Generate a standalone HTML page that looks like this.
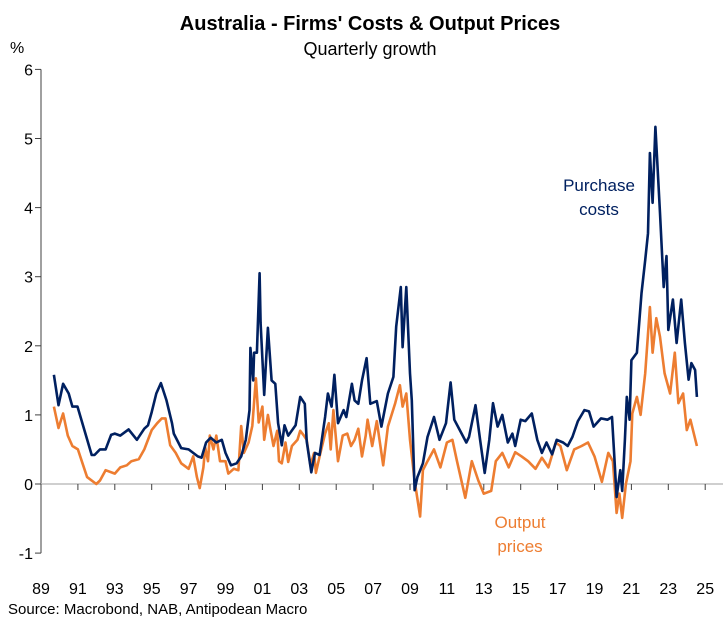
<!DOCTYPE html>
<html><head><meta charset="utf-8"><style>
body{margin:0;background:#fff;font-family:"Liberation Sans",Arial,sans-serif}
</style></head><body>
<svg id="chart" width="728" height="630" xmlns="http://www.w3.org/2000/svg" font-family="Liberation Sans, Arial, sans-serif">
<text x="370" y="30" text-anchor="middle" font-size="20" font-weight="bold">Australia - Firms' Costs &amp; Output Prices</text>
<text x="370" y="55" text-anchor="middle" font-size="18">Quarterly growth</text>
<text x="10" y="53" font-size="16">%</text>
<text x="599" y="191" text-anchor="middle" font-size="17" fill="#002060">Purchase</text>
<text x="599" y="215" text-anchor="middle" font-size="17" fill="#002060">costs</text>
<text x="520" y="528" text-anchor="middle" font-size="17" fill="#ED7D31">Output</text>
<text x="520" y="552" text-anchor="middle" font-size="17" fill="#ED7D31">prices</text>
<text x="8" y="614" font-size="15">Source: Macrobond, NAB, Antipodean Macro</text>
<g id="axes"></g><g id="series"></g>
</svg>
<script>
const yTicks=[6,5,4,3,2,1,0,-1];
const xTickYears=[1989,1991,1993,1995,1997,1999,2001,2003,2005,2007,2009,2011,2013,2015,2017,2019,2021,2023,2025];
const xTickLabels=["89","91","93","95","97","99","01","03","05","07","09","11","13","15","17","19","21","23","25"];
const purchaseDates=[1989.7,1989.95,1990.2,1990.5,1990.7,1990.98,1991.75,1991.9,1992.2,1992.5,1992.8,1993.0,1993.3,1993.75,1994.2,1994.6,1994.8,1995.0,1995.25,1995.5,1995.8,1996.1,1996.2,1996.6,1997.0,1997.25,1997.5,1997.7,1997.95,1998.2,1998.5,1998.8,1999.0,1999.3,1999.6,1999.85,2000.1,2000.3,2000.35,2000.5,2000.55,2000.7,2000.85,2000.9,2001.1,2001.3,2001.5,2001.7,2001.85,2002.05,2002.2,2002.4,2002.8,2003.05,2003.3,2003.4,2003.65,2003.85,2004.1,2004.4,2004.55,2004.75,2004.9,2005.1,2005.4,2005.55,2005.85,2006.0,2006.2,2006.4,2006.65,2006.85,2007.2,2007.45,2007.8,2008.1,2008.25,2008.5,2008.6,2008.8,2009.0,2009.1,2009.25,2009.4,2009.7,2009.95,2010.3,2010.6,2010.95,2011.2,2011.4,2011.7,2012.05,2012.2,2012.55,2012.8,2013.05,2013.3,2013.5,2013.75,2014.0,2014.3,2014.55,2014.7,2015.0,2015.25,2015.6,2015.9,2016.15,2016.4,2016.7,2016.95,2017.3,2017.55,2017.8,2018.1,2018.45,2018.7,2018.95,2019.35,2019.7,2019.95,2020.05,2020.2,2020.4,2020.5,2020.65,2020.75,2020.9,2021.0,2021.3,2021.55,2021.75,2021.9,2022.0,2022.15,2022.3,2022.55,2022.75,2022.9,2023.0,2023.25,2023.45,2023.7,2023.9,2024.1,2024.25,2024.45,2024.55];
const purchaseVals=[1.58,1.14,1.45,1.31,1.12,1.12,0.42,0.42,0.5,0.5,0.71,0.73,0.7,0.79,0.64,0.8,0.85,1.04,1.31,1.46,1.21,0.88,0.73,0.52,0.5,0.45,0.4,0.38,0.6,0.67,0.6,0.64,0.45,0.27,0.3,0.4,0.64,1.07,1.97,1.5,1.9,1.9,3.05,2.33,1.29,2.26,1.5,1.45,0.88,0.56,0.85,0.7,0.85,1.26,1.16,0.62,0.17,0.45,0.42,0.97,1.31,1.12,1.58,0.88,1.07,0.97,1.45,1.21,1.16,1.5,1.82,1.16,1.2,0.83,1.31,1.55,2.28,2.85,1.98,2.85,1.6,1.21,-0.09,0.1,0.3,0.68,0.97,0.64,0.88,1.47,0.93,0.78,0.6,0.68,1.14,0.64,0.16,0.64,1.17,0.83,1.0,0.6,0.73,0.55,0.93,0.91,1.02,0.64,0.45,0.6,0.43,0.64,0.6,0.55,0.68,0.91,1.07,1.05,0.83,0.95,0.93,0.97,0.5,-0.19,0.2,-0.1,0.64,1.26,0.93,1.79,1.9,2.76,3.24,3.63,4.79,4.07,5.17,3.92,2.85,3.3,2.23,2.67,2.04,2.67,2.04,1.51,1.75,1.65,1.26];
const outputDates=[1989.7,1989.95,1990.2,1990.45,1990.7,1991.0,1991.25,1991.5,1992.0,1992.2,1992.5,1993.0,1993.3,1993.65,1993.9,1994.3,1994.6,1995.0,1995.3,1995.55,1995.75,1996.0,1996.3,1996.6,1997.0,1997.25,1997.45,1997.6,1997.8,1997.9,1998.05,1998.15,1998.35,1998.5,1998.7,1999.0,1999.15,1999.45,1999.7,1999.85,2000.0,2000.25,2000.45,2000.65,2000.8,2001.0,2001.1,2001.3,2001.4,2001.6,2001.8,2001.9,2002.05,2002.25,2002.4,2002.6,2002.9,2003.05,2003.25,2003.4,2003.6,2003.8,2003.9,2004.1,2004.4,2004.6,2004.7,2004.85,2005.1,2005.35,2005.6,2005.8,2006.0,2006.2,2006.4,2006.6,2006.7,2006.95,2007.2,2007.55,2007.8,2008.2,2008.45,2008.6,2008.8,2009.0,2009.25,2009.55,2009.7,2009.95,2010.3,2010.65,2011.0,2011.3,2011.55,2012.0,2012.35,2012.7,2013.0,2013.4,2013.65,2014.0,2014.35,2014.7,2015.05,2015.4,2015.8,2016.15,2016.5,2016.9,2017.15,2017.5,2017.9,2018.3,2018.65,2019.0,2019.4,2019.75,2020.0,2020.2,2020.35,2020.5,2020.7,2020.95,2021.05,2021.3,2021.5,2021.75,2022.0,2022.15,2022.35,2022.55,2022.8,2023.1,2023.35,2023.55,2023.8,2024.0,2024.2,2024.55];
const outputVals=[1.12,0.81,1.02,0.7,0.55,0.5,0.3,0.1,0.0,0.05,0.2,0.15,0.24,0.27,0.33,0.36,0.5,0.78,0.88,0.95,0.95,0.56,0.45,0.3,0.22,0.4,0.1,-0.06,0.24,0.53,0.33,0.7,0.5,0.7,0.33,0.33,0.15,0.22,0.2,0.84,0.45,0.6,0.84,1.53,0.89,1.12,0.64,1.0,0.84,0.55,0.77,0.33,0.3,0.6,0.32,0.55,0.64,0.77,0.7,0.64,0.27,0.45,0.16,0.4,0.73,0.88,0.5,1.07,0.33,0.7,0.73,0.55,0.64,0.8,0.4,0.7,0.93,0.55,0.91,0.27,0.83,1.17,1.43,1.12,1.31,0.64,0.05,-0.47,0.2,0.33,0.5,0.24,0.6,0.64,0.33,-0.2,0.33,0.05,-0.14,-0.1,0.33,0.45,0.24,0.46,0.4,0.33,0.22,0.38,0.24,0.6,0.55,0.2,0.5,0.55,0.6,0.4,0.03,0.45,0.33,-0.42,-0.14,-0.49,0.0,0.33,1.02,1.26,1.0,1.6,2.56,1.9,2.4,2.13,1.6,1.31,1.9,1.17,1.31,0.78,0.93,0.55];

const NS="http://www.w3.org/2000/svg";
const X0=41, XPY=18.45, Y0=484, YPU=69.1;
function xs(yr){return X0+(yr-1989)*XPY;}
function ys(v){return Y0-v*YPU;}
function mk(tag,attrs,parent){const e=document.createElementNS(NS,tag);for(const k in attrs)e.setAttribute(k,attrs[k]);parent.appendChild(e);return e;}
const ax=document.getElementById('axes'), se=document.getElementById('series');
let yl=mk('line',{x1:X0,y1:ys(6),x2:X0,y2:ys(-1),stroke:'#404040','stroke-width':1},ax);


let zl=mk('line',{x1:X0,y1:ys(0),x2:723,y2:ys(0),stroke:'#bfbfbf','stroke-width':1.5},ax);


yTicks.forEach(v=>{
  let t=mk('line',{x1:X0-6,y1:ys(v),x2:X0,y2:ys(v),stroke:'#404040','stroke-width':1},ax);
  
  
  let l=mk('text',{x:33,y:ys(v)+6,'text-anchor':'end','font-size':16},ax);
  l.textContent=String(v);
  
  
});
xTickYears.forEach((yr,i)=>{
  let t=mk('line',{x1:xs(yr),y1:ys(0),x2:xs(yr),y2:ys(0)+6,stroke:'#404040','stroke-width':1},ax);
  
  
  let l=mk('text',{x:xs(yr),y:594,'text-anchor':'middle','font-size':16},ax);
  l.textContent=xTickLabels[i];
  
  
});
function path(d,v){return d.map((t,i)=>(i?'L':'M')+xs(t).toFixed(1)+' '+ys(v[i]).toFixed(1)).join(' ');}
let po=mk('path',{d:path(outputDates,outputVals),fill:'none',stroke:'#ED7D31','stroke-width':2.6,'stroke-linejoin':'round'},se);


let pp=mk('path',{d:path(purchaseDates,purchaseVals),fill:'none',stroke:'#002060','stroke-width':2.6,'stroke-linejoin':'round'},se);


</script>
</body></html>
